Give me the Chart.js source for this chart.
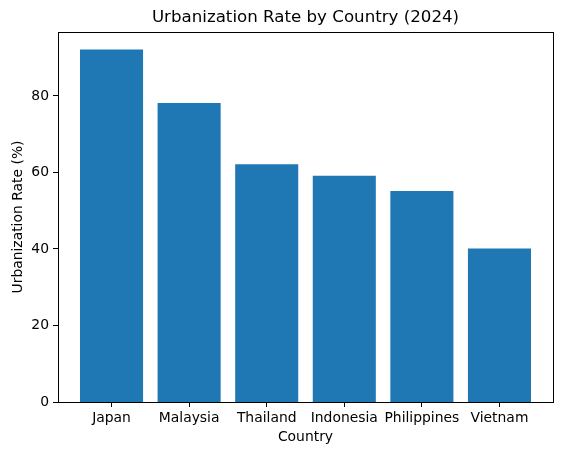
<!DOCTYPE html>
<html>
<head>
<meta charset="utf-8">
<script src="https://cdn.jsdelivr.net/npm/chart.js@4.4.1/dist/chart.umd.min.js"></script>
<style>
  html, body { margin: 0; padding: 0; background: #fff; }
  #wrap { width: 562px; height: 455px; }
</style>
</head>
<body>
<div id="wrap"><canvas id="urban_chart" width="562" height="455"></canvas></div>
<script>
// data
const countries = ['Japan', 'Malaysia', 'Thailand', 'Indonesia', 'Philippines', 'Vietnam'];
const urbanRates = [92, 78, 62, 59, 55, 40];
const yTicks = [0, 20, 40, 60, 80];

Chart.defaults.font.family = "'DejaVu Sans', sans-serif";
Chart.defaults.color = '#000';

// draws the box around the plot like matplotlib spines
const frameBox = {
  id: 'frameBox',
  afterDraw(chart) {
    const { ctx, chartArea: a } = chart;
    ctx.save();
    ctx.strokeStyle = '#000';
    ctx.lineWidth = 1;
    ctx.strokeRect(a.left + 0.5, a.top + 0.5, a.right - a.left, a.bottom - a.top);
    ctx.restore();
  }
};

const ctx = document.getElementById('urban_chart').getContext('2d');
const urbanChart = new Chart(ctx, {
  type: 'bar',
  data: {
    datasets: [{
      label: 'Urbanization Rate',
      data: urbanRates.map((v, i) => ({ x: i, y: v })),
      backgroundColor: '#1f77b4',
      borderColor: '#1f77b4',
      borderWidth: 0,
      inflateAmount: 0.5,
      barPercentage: 0.8,
      categoryPercentage: 1.0
    }]
  },
  options: {
    responsive: false,
    animation: false,
    devicePixelRatio: 1,
    layout: { padding: { left: 10, right: 9, top: 0, bottom: 9 } },
    plugins: {
      legend: { display: false },
      tooltip: { enabled: false },
      title: {
        display: true,
        fullSize: false,
        text: 'Urbanization Rate by Country (2024)',
        font: { size: 16.67, weight: 'normal' },
        padding: { top: 8, bottom: 4 }
      }
    },
    scales: {
      x: {
        type: 'linear',
        min: -0.69,
        max: 5.69,
        offset: false,
        afterBuildTicks: s => { s.ticks = countries.map((_, i) => ({ value: i })); },
        afterFit: s => { s.height = 44; },
        ticks: {
          callback: v => countries[v],
          font: { size: 13.9 },
          padding: 3,
          maxRotation: 0
        },
        grid: { offset: false, drawOnChartArea: false, drawTicks: true, tickLength: 5, color: '#000' },
        border: { display: false },
        title: { display: true, text: 'Country', font: { size: 13.9 }, padding: { top: 0, bottom: 0 } }
      },
      y: {
        min: 0,
        max: 96.7,
        afterBuildTicks: s => { s.ticks = yTicks.map(v => ({ value: v })); },
        afterFit: s => { s.width = 48; },
        ticks: { font: { size: 13.9 }, padding: 4 },
        grid: { drawOnChartArea: false, drawTicks: true, tickLength: 5, color: '#000' },
        border: { display: false },
        title: { display: true, text: 'Urbanization Rate (%)', font: { size: 13.9 }, padding: { top: 0, bottom: 2 } }
      }
    }
  },
  plugins: [frameBox]
});
</script>
</body>
</html>
